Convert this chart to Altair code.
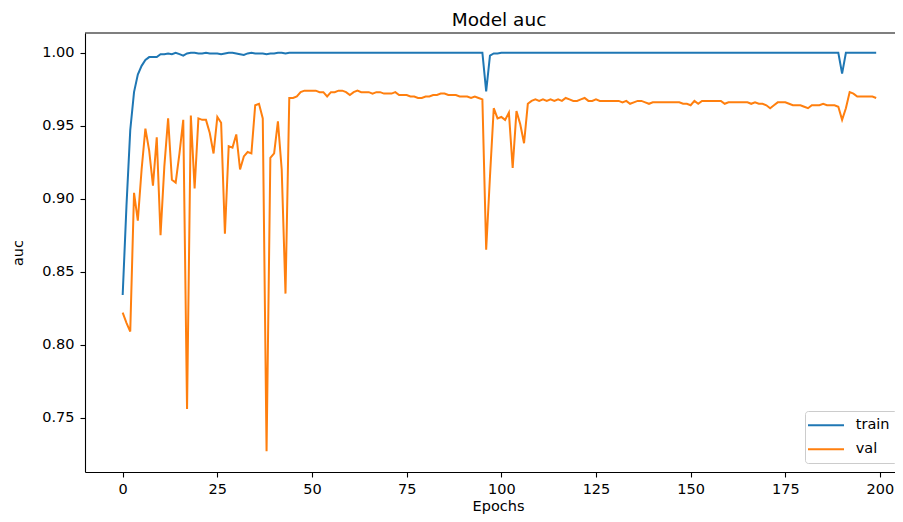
import altair as alt
import pandas as pd

epochs = list(range(200))

train = [
    0.834, 0.895, 0.947, 0.973, 0.985, 0.991, 0.995, 0.997, 0.997, 0.997,
    0.999, 0.999, 0.9995, 0.999, 1.0, 0.999, 0.998, 0.9995, 1.0, 1.0,
    0.9995, 0.9995, 1.0, 0.9995, 0.9995, 0.9995, 0.999, 0.9995, 1.0, 1.0,
    0.9995, 0.999, 0.9985, 0.9995, 1.0, 0.9995, 0.9995, 0.9995, 0.999, 0.9995,
    0.9995, 1.0, 1.0, 0.9995, 1.0, 1.0, 1.0, 1.0, 1.0, 1.0,
    1.0, 1.0, 1.0, 1.0, 1.0, 1.0, 1.0, 1.0, 1.0, 1.0,
    1.0, 1.0, 1.0, 1.0, 1.0, 1.0, 1.0, 1.0, 1.0, 1.0,
    1.0, 1.0, 1.0, 1.0, 1.0, 1.0, 1.0, 1.0, 1.0, 1.0,
    1.0, 1.0, 1.0, 1.0, 1.0, 1.0, 1.0, 1.0, 1.0, 1.0,
    1.0, 1.0, 1.0, 1.0, 1.0, 1.0, 0.9735, 0.998, 0.9995, 0.9995,
    1.0, 1.0, 1.0, 1.0, 1.0, 1.0, 1.0, 1.0, 1.0, 1.0,
    1.0, 1.0, 1.0, 1.0, 1.0, 1.0, 1.0, 1.0, 1.0, 1.0,
    1.0, 1.0, 1.0, 1.0, 1.0, 1.0, 1.0, 1.0, 1.0, 1.0,
    1.0, 1.0, 1.0, 1.0, 1.0, 1.0, 1.0, 1.0, 1.0, 1.0,
    1.0, 1.0, 1.0, 1.0, 1.0, 1.0, 1.0, 1.0, 1.0, 1.0,
    1.0, 1.0, 1.0, 1.0, 1.0, 1.0, 1.0, 1.0, 1.0, 1.0,
    1.0, 1.0, 1.0, 1.0, 1.0, 1.0, 1.0, 1.0, 1.0, 1.0,
    1.0, 1.0, 1.0, 1.0, 1.0, 1.0, 1.0, 1.0, 1.0, 1.0,
    1.0, 1.0, 1.0, 1.0, 1.0, 1.0, 1.0, 1.0, 1.0, 1.0,
    0.9857, 1.0, 1.0, 1.0, 1.0, 1.0, 1.0, 1.0, 1.0, 1.0,
]

val = [
    0.822, 0.815, 0.809, 0.904, 0.885, 0.920, 0.948, 0.933, 0.909, 0.942,
    0.875, 0.922, 0.955, 0.913, 0.911, 0.931, 0.954, 0.756, 0.957, 0.907,
    0.955, 0.954, 0.954, 0.945, 0.931, 0.956, 0.952, 0.876, 0.936, 0.935,
    0.944, 0.920, 0.929, 0.932, 0.931, 0.964, 0.965, 0.955, 0.727, 0.928,
    0.931, 0.953, 0.920, 0.835, 0.969, 0.969, 0.970, 0.973, 0.974, 0.974,
    0.974, 0.974, 0.973, 0.973, 0.970, 0.973, 0.973, 0.974, 0.974, 0.973,
    0.971, 0.973, 0.974, 0.973, 0.973, 0.973, 0.972, 0.973, 0.973, 0.972,
    0.972, 0.972, 0.973, 0.971, 0.971, 0.971, 0.970, 0.970, 0.969, 0.969,
    0.970, 0.970, 0.971, 0.971, 0.972, 0.972, 0.971, 0.971, 0.971, 0.970,
    0.970, 0.970, 0.969, 0.970, 0.969, 0.968, 0.865, 0.915, 0.962, 0.955,
    0.956, 0.954, 0.959, 0.921, 0.960, 0.951, 0.938, 0.965, 0.967, 0.968,
    0.967, 0.968, 0.967, 0.968, 0.967, 0.968, 0.967, 0.969, 0.968, 0.967,
    0.967, 0.968, 0.969, 0.967, 0.967, 0.968, 0.967, 0.967, 0.967, 0.967,
    0.967, 0.967, 0.966, 0.967, 0.965, 0.966, 0.967, 0.967, 0.966, 0.965,
    0.966, 0.966, 0.966, 0.966, 0.966, 0.966, 0.966, 0.966, 0.965, 0.965,
    0.964, 0.967, 0.965, 0.967, 0.967, 0.967, 0.967, 0.967, 0.967, 0.965,
    0.966, 0.966, 0.966, 0.966, 0.966, 0.966, 0.965, 0.966, 0.965, 0.965,
    0.964, 0.962, 0.964, 0.966, 0.966, 0.966, 0.965, 0.964, 0.964, 0.964,
    0.963, 0.962, 0.964, 0.964, 0.964, 0.965, 0.964, 0.964, 0.964, 0.963,
    0.954, 0.962, 0.973, 0.972, 0.970, 0.970, 0.970, 0.970, 0.970, 0.969,
]

series_names = ["train", "val"]
series_colors = ["#1f77b4", "#ff7f0e"]
x_ticks = [0, 25, 50, 75, 100, 125, 150, 175, 200]
y_ticks = [0.75, 0.80, 0.85, 0.90, 0.95, 1.00]

df = pd.DataFrame({
    "epoch": epochs + epochs,
    "auc": train + val,
    "series": ["train"] * len(train) + ["val"] * len(val),
})

W, H = 810, 439
FONT = "DejaVu Sans"

lines = alt.Chart(df).mark_line(strokeWidth=2).encode(
    x=alt.X("epoch:Q",
            scale=alt.Scale(domain=[-9.95, 203.97], nice=False, zero=False),
            axis=alt.Axis(values=x_ticks, title="Epochs", labelPadding=5,
                          titleX=413, titleY=27, titleAlign="center",
                          titleBaseline="top")),
    y=alt.Y("auc:Q",
            scale=alt.Scale(domain=[0.7128, 1.0135], nice=False, zero=False),
            axis=alt.Axis(values=y_ticks, format=".2f", title="auc", labelPadding=6,
                          titleAngle=270, titleX=-67, titleY=219.5,
                          titleAlign="center", titleBaseline="middle")),
    color=alt.Color("series:N",
                    scale=alt.Scale(domain=series_names, range=series_colors),
                    legend=alt.Legend(title=None, orient="none", legendX=720, legendY=378,
                                      direction="vertical",
                                      symbolType="M-3.6,0H3.6", symbolSize=100,
                                      symbolStrokeWidth=2, symbolOffset=6.75,
                                      labelOffset=22.5, labelFont=FONT,
                                      labelFontSize=14.5, labelColor="black",
                                      padding=7, rowPadding=8.9,
                                      strokeColor="#cccccc", fillColor="white",
                                      cornerRadius=3)),
)

top_spine = alt.Chart(pd.DataFrame({"k": [0]})).mark_rule(
    color="black", strokeWidth=1.1
).encode(x=alt.value(0), x2=alt.value(W), y=alt.value(0))

chart = alt.layer(lines, top_spine).properties(
    width=W,
    height=H,
    autosize="none",
    padding={"left": 77, "top": 25, "right": 0, "bottom": 42},
    title=alt.TitleParams("Model auc", font=FONT, fontSize=18.5, fontWeight="normal",
                          color="black", anchor="middle", dx=9, offset=3),
).configure_view(
    stroke="transparent"
).configure_axis(
    grid=False,
    domainColor="black",
    domainWidth=1.1,
    tickColor="black",
    tickWidth=1.1,
    tickSize=5,
    labelFont=FONT,
    labelFontSize=14.5,
    labelColor="black",
    titleFont=FONT,
    titleFontSize=14.5,
    titleFontWeight="normal",
    titleColor="black",
)

chart.save("out.html", embed_options={"renderer": "svg", "actions": False})
